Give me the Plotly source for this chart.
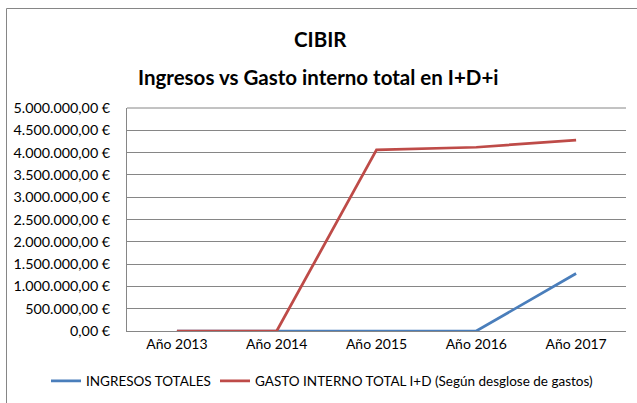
import plotly.graph_objects as go

categories = ["Año 2013", "Año 2014", "Año 2015", "Año 2016", "Año 2017"]
ingresos = [0, 0, 0, 0, 1290000]
gasto = [0, 0, 4060000, 4120000, 4280000]
tick_vals = [i * 500000 for i in range(11)]
tick_text = ["0,00 €", "500.000,00 €", "1.000.000,00 €", "1.500.000,00 €", "2.000.000,00 €",
             "2.500.000,00 €", "3.000.000,00 €", "3.500.000,00 €", "4.000.000,00 €",
             "4.500.000,00 €", "5.000.000,00 €"]
title_lines = ["CIBIR", "Ingresos vs Gasto interno total en I+D+i"]

FONT = "Lato, 'Liberation Sans', sans-serif"
W, H = 637, 403
L, R, T, B = 127, 11, 108, 72
pw, ph = W - L - R, H - T - B


def px(x):
    return (x - L) / pw


def py(y):
    return (H - B - y) / ph


fig = go.Figure()
fig.add_trace(go.Scatter(x=categories, y=ingresos, mode="lines", name="INGRESOS TOTALES",
                         line=dict(color="#4A7EBB", width=2.75), legend="legend"))
fig.add_trace(go.Scatter(x=categories, y=gasto, mode="lines",
                         name="GASTO INTERNO TOTAL I+D (Según desglose de gastos)",
                         line=dict(color="#BE4B48", width=2.75), legend="legend2"))

leg_common = dict(orientation="h", yref="container", yanchor="middle", xref="container",
                  xanchor="left", font=dict(family=FONT, size=13.5, color="#000000"),
                  bgcolor="rgba(0,0,0,0)", itemwidth=30, borderwidth=0)

fig.update_layout(
    width=W, height=H,
    margin=dict(l=L, r=R, t=T, b=B, autoexpand=False),
    paper_bgcolor="white", plot_bgcolor="white",
    font=dict(family=FONT, size=14, color="#000000"),
    showlegend=True,
    legend=dict(leg_common, x=46 / W, y=1 - 381 / H),
    legend2=dict(leg_common, x=215 / W, y=1 - 381 / H),
    xaxis=dict(type="category", range=[-0.5, 4.5], showgrid=False, showline=True,
               linecolor="#868686", linewidth=1, ticks="", tickfont=dict(size=14),
               zeroline=False),
    yaxis=dict(range=[0, 5000000], tickvals=tick_vals, ticktext=tick_text,
               showgrid=True, gridcolor="#868686", gridwidth=1, showline=True,
               linecolor="#868686", linewidth=1, ticks="", zeroline=False,
               tickfont=dict(size=14.3), ticklabelstandoff=13),
    annotations=[
        dict(text="<b>%s</b>" % title_lines[0], xref="paper", yref="paper",
             x=px(320), y=py(39), xanchor="center", yanchor="middle", showarrow=False,
             font=dict(family=FONT, size=20.5, color="#000000")),
        dict(text="<b>%s</b>" % title_lines[1], xref="paper", yref="paper",
             x=px(318), y=py(77), xanchor="center", yanchor="middle", showarrow=False,
             font=dict(family=FONT, size=20.5, color="#000000")),
    ],
    shapes=[dict(type="rect", xref="paper", yref="paper",
                 x0=px(6.5), x1=px(660), y0=py(430), y1=py(8.5),
                 line=dict(color="#868686", width=1), fillcolor="rgba(0,0,0,0)", layer="below"),
            dict(type="line", xref="paper", yref="paper", x0=0, x1=1, y0=1, y1=1,
                 line=dict(color="#868686", width=1))],
)

fig.write_html("out.html", config={"displayModeBar": False},
               post_script="document.body.style.margin='0';")
